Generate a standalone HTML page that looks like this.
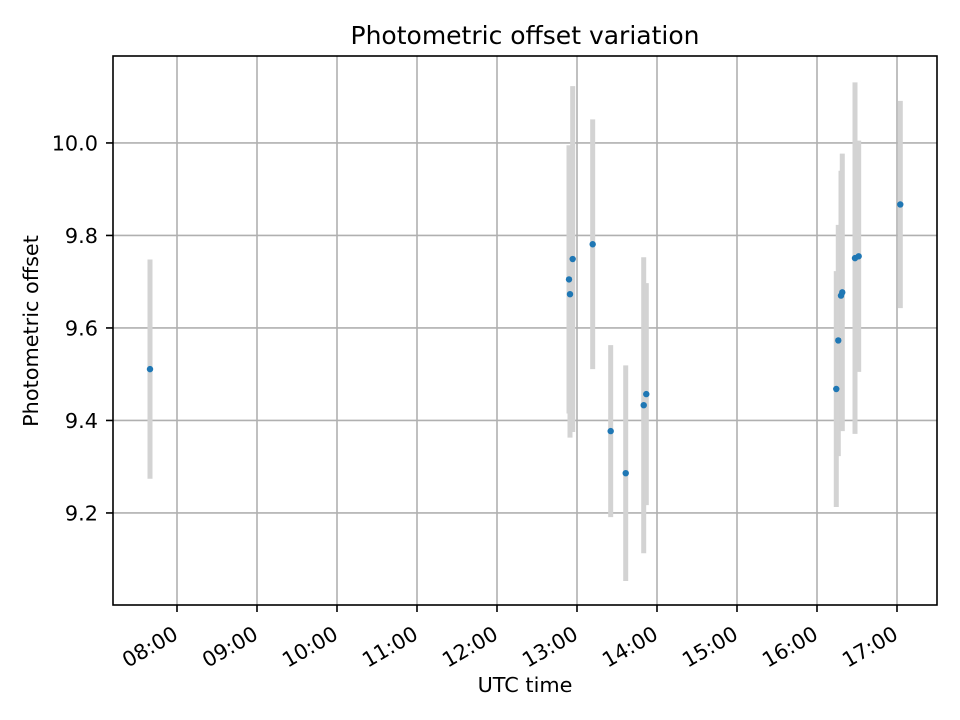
<!DOCTYPE html>
<html><head><meta charset="utf-8"><style>
body{margin:0;background:#fff}
svg{display:block}
svg text{font-family:"DejaVu Sans","Liberation Sans",sans-serif}
</style></head><body>
<svg id="chart" width="960" height="720">
<rect x="0" y="0" width="960" height="720" fill="#fff"/>
<g id="grid"></g><g id="bars"></g><g id="pts"></g><g id="ticks"></g>
<rect x="113" y="56" width="824" height="549" fill="none" stroke="#000" stroke-width="1.6"/>
<text x="525" y="44" text-anchor="middle" font-size="25">Photometric offset variation</text>
<text x="525" y="692" text-anchor="middle" font-size="20.8">UTC time</text>
<text x="38" y="331" text-anchor="middle" font-size="20.8" transform="rotate(-90 38 331)">Photometric offset</text>
</svg>
<script>
const times=[7.6625,12.9,12.9125,12.946,13.196,13.421,13.609,13.834,13.866,16.241,16.266,16.3,16.316,16.475,16.521,17.041];
const values=[9.511,9.705,9.673,9.749,9.781,9.377,9.286,9.433,9.457,9.468,9.573,9.670,9.677,9.751,9.755,9.867];
const errors=[0.237,0.29,0.31,0.374,0.27,0.186,0.233,0.32,0.24,0.255,0.25,0.27,0.3,0.38,0.25,0.224];
const xTicks=[8,9,10,11,12,13,14,15,16,17];
const xTickLabels=["08:00","09:00","10:00","11:00","12:00","13:00","14:00","15:00","16:00","17:00"];
const yTicks=[9.2,9.4,9.6,9.8,10.0];
const yTickLabels=["9.2","9.4","9.6","9.8","10.0"];
const L=113,R=937,T=56,B=605,x0=7.2,x1=17.5,y0=9.001,y1=10.188;
const X=v=>L+(v-x0)/(x1-x0)*(R-L);
const Y=v=>B-(v-y0)/(y1-y0)*(B-T);
const NS="http://www.w3.org/2000/svg";
function mk(tag,parent,attrs){const e=document.createElementNS(NS,tag);for(const k in attrs)e.setAttribute(k,attrs[k]);document.getElementById(parent).appendChild(e);return e;}
xTicks.forEach((t,i)=>{
 const x=X(t);
 const g=mk('line','grid',{x1:x,x2:x,y1:T,y2:B,stroke:'#b0b0b0','stroke-width':1.6});
 
 
 const tk=mk('line','ticks',{x1:x,x2:x,y1:B,y2:B+7,stroke:'#000','stroke-width':1.6});
 
 
 const ax=x+2.5, ay=B+33;
 const tx=mk('text','ticks',{x:ax,y:ay,'text-anchor':'end','font-size':20.8,transform:`rotate(-30 ${ax} ${ay})`});
 tx.textContent=xTickLabels[i];
 
 
});
yTicks.forEach((t,i)=>{
 const y=Y(t);
 const g=mk('line','grid',{x1:L,x2:R,y1:y,y2:y,stroke:'#b0b0b0','stroke-width':1.6});
 
 
 const tk=mk('line','ticks',{x1:L-7,x2:L,y1:y,y2:y,stroke:'#000','stroke-width':1.6});
 
 
 const tx=mk('text','ticks',{x:L-15,y:y+7.5,'text-anchor':'end','font-size':20.8});
 tx.textContent=yTickLabels[i];
 
 
});
times.forEach((t,i)=>{
 const x=X(t);
 const b=mk('line','bars',{x1:x,x2:x,y1:Y(values[i]+errors[i]),y2:Y(values[i]-errors[i]),stroke:'#d3d3d3','stroke-width':5});
 
 
 const p=mk('circle','pts',{cx:x,cy:Y(values[i]),r:3.2,fill:'#1f77b4'});
 
 
});
</script>
</body></html>
